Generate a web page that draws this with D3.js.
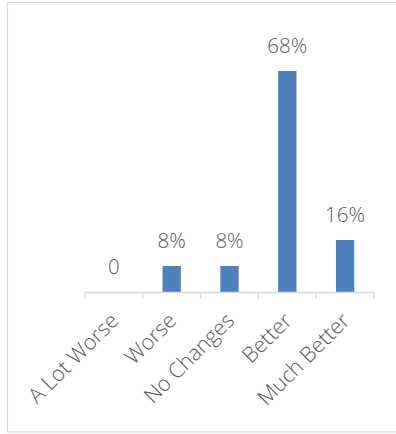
<!DOCTYPE html>
<html>
<head>
<meta charset="utf-8">
<script src="https://cdn.jsdelivr.net/npm/d3@7"></script>
<style>
  html, body { margin: 0; padding: 0; background: #fff; }
  svg { display: block; }
  text { font-family: "Open Sans", "Liberation Sans", sans-serif; font-weight: 350; fill: #595959; }
</style>
</head>
<body>
<svg id="chart" width="396" height="434"></svg>
<script>
// Response categories and their shares (percent)
const categories = ["A Lot Worse", "Worse", "No Changes", "Better", "Much Better"];
const values = [0, 8, 8, 68, 16];
const valueLabels = ["0", "8%", "8%", "68%", "16%"];

const svg = d3.select("#chart");
const W = 396, H = 434;

// chart frame (right edge runs off the canvas)
svg.append("rect")
  .attr("x", 7.5).attr("y", 2.5)
  .attr("width", W).attr("height", 429.5)
  .attr("fill", "#fff")
  .attr("stroke", "#d9d9d9")
  .attr("stroke-width", 1.2);

const plot = { left: 85, right: 374, top: 32, bottom: 292 };
const gap = 0.683;

const x = d3.scaleBand()
  .domain(categories)
  .range([plot.left, plot.right])
  .paddingInner(gap)
  .paddingOuter(gap / 2);

const y = d3.scaleLinear()
  .domain([0, 80])
  .range([plot.bottom, plot.top]);

// bars
svg.append("g").selectAll("rect")
  .data(categories)
  .join("rect")
  .attr("x", d => x(d))
  .attr("width", x.bandwidth())
  .attr("y", (d, i) => y(values[i]))
  .attr("height", (d, i) => y(0) - y(values[i]))
  .attr("fill", "#4f81bd");

// value labels above bars
svg.append("g").selectAll("text")
  .data(categories)
  .join("text")
  .attr("x", d => x(d) + x.bandwidth() / 2)
  .attr("y", (d, i) => y(values[i]) - 18)
  .attr("text-anchor", "middle")
  .attr("font-size", 20.5)
  .text((d, i) => valueLabels[i]);

// category axis: baseline with ticks at band boundaries
const step = x.step();
const edges = categories.map(c => x(c) - x.paddingInner() * step / 2)
  .concat([plot.right]);
const axis = svg.append("g").attr("stroke", "#d9d9d9").attr("stroke-width", 1.3);
axis.append("line")
  .attr("x1", plot.left).attr("x2", plot.right)
  .attr("y1", y(0) + 0.5).attr("y2", y(0) + 0.5);
axis.selectAll("line.tick")
  .data(edges)
  .join("line")
  .attr("class", "tick")
  .attr("x1", d => d).attr("x2", d => d)
  .attr("y1", y(0)).attr("y2", y(0) + 7);

// rotated category labels
svg.append("g").selectAll("text")
  .data(categories)
  .join("text")
  .attr("text-anchor", "end")
  .attr("font-size", 21.5)
  .attr("transform", d => {
    const cx = x(d) + x.bandwidth() / 2 + 6;
    const cy = y(0) + 30;
    return `translate(${cx},${cy}) rotate(-45)`;
  })
  .text(d => d);
</script>
</body>
</html>
